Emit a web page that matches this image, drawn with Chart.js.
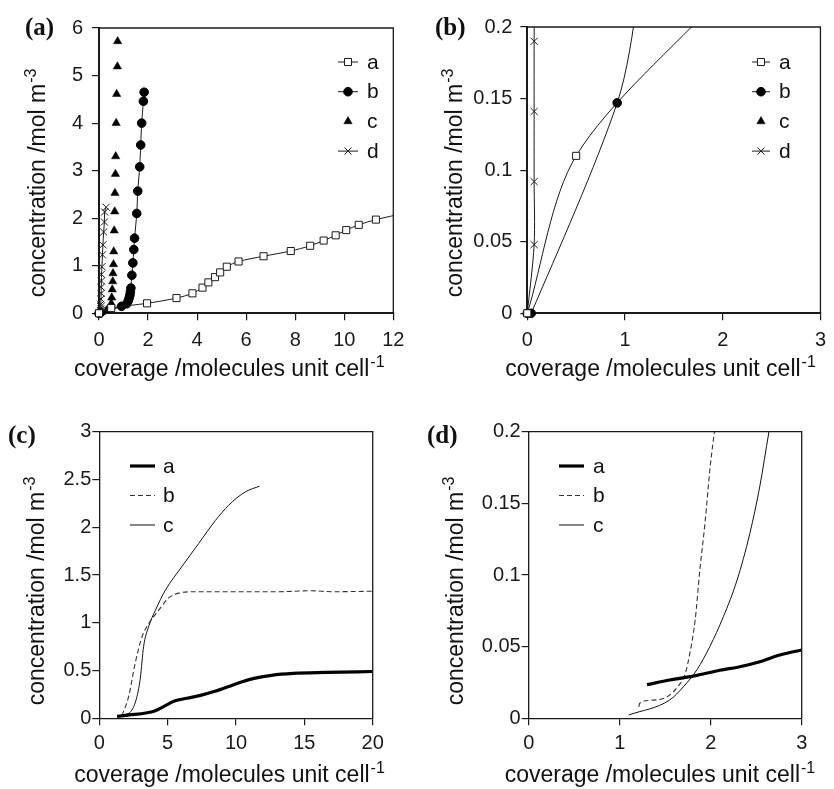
<!DOCTYPE html>
<html><head><meta charset="utf-8">
<script src="https://cdn.jsdelivr.net/npm/chart.js@4"></script>
<style>
html,body{margin:0;padding:0;background:#fff;}
#wrap{position:relative;width:834px;height:789px;overflow:hidden;background:#fff;}
canvas{position:absolute;}
</style></head><body>
<div id="wrap">
<canvas id="ca" width="417" height="390" style="left:0;top:0"></canvas>
<canvas id="cb" width="417" height="390" style="left:417px;top:0"></canvas>
<canvas id="cc" width="417" height="399" style="left:0;top:390px"></canvas>
<canvas id="cd" width="417" height="399" style="left:417px;top:390px"></canvas>
</div>
<script>
// ---------- shared text ----------
const yTitle = ['concentration /mol m', '-3'];
const xTitle = ['coverage /molecules unit cell', '-1'];
const seriesNamesAB = ['a', 'b', 'c', 'd'];
const seriesNamesCD = ['a', 'b', 'c'];

// ---------- panel (a) ----------
const aXTicks = [0, 2, 4, 6, 8, 10, 12];
const aXLabels = ['0', '2', '4', '6', '8', '10', '12'];
const aYTicks = [0, 1, 2, 3, 4, 5, 6];
const aYLabels = ['0', '1', '2', '3', '4', '5', '6'];
const aSerA = [[0,0],[0.5,0.11],[1.96,0.21],[3.16,0.32],[3.81,0.42],[4.22,0.54],[4.46,0.65],[4.73,0.76],[4.94,0.86],[5.21,0.98],[5.69,1.09],[6.71,1.20],[7.82,1.31],[8.61,1.42],[9.16,1.53],[9.65,1.64],[10.08,1.75],[10.59,1.86],[11.29,1.97],[12.5,2.11]];
const aSerB = [[0,0],[0.04,0],[0.92,0.147],[1.13,0.20],[1.19,0.26],[1.23,0.32],[1.26,0.38],[1.28,0.45],[1.30,0.53],[1.34,0.80],[1.38,1.06],[1.42,1.34],[1.45,1.58],[1.54,2.10],[1.58,2.57],[1.66,3.08],[1.70,3.54],[1.74,4.0],[1.81,4.46],[1.84,4.65]];
const aSerC = [[0,0],[0.1,0.02],[0.3,0.06],[0.45,0.12],[0.50,0.21],[0.52,0.33],[0.54,0.50],[0.56,0.67],[0.57,0.84],[0.59,1.03],[0.60,1.30],[0.62,1.74],[0.64,2.14],[0.65,2.53],[0.67,2.93],[0.68,3.30],[0.70,4.0],[0.72,4.61],[0.75,5.19],[0.76,5.72]];
const aSerD = [[0,0],[0.07,0.048],[0.07,0.092],[0.07,0.141],[0.07,0.19],[0.08,0.30],[0.09,0.42],[0.09,0.55],[0.10,0.68],[0.10,0.82],[0.12,0.98],[0.14,1.23],[0.16,1.44],[0.19,1.71],[0.22,1.92],[0.23,2.13],[0.29,2.23]];

// ---------- panel (b) ----------
const bXTicks = [0, 1, 2, 3];
const bXLabels = ['0', '1', '2', '3'];
const bYTicks = [0, 0.05, 0.1, 0.15, 0.2];
const bYLabels = ['0', '0.05', '0.1', '0.15', '0.2'];
const bSerA = [[0,0],[0.5,0.11],[1.96,0.22]];
const bSerB = [[0,0],[0.04,0],[0.92,0.147],[1.13,0.22],[1.19,0.27]];
const bSerC = [[0,0]];
const bSerD = [[0,0],[0.07,0.048],[0.07,0.092],[0.07,0.141],[0.07,0.19],[0.08,0.30]];

// ---------- panel (c) ----------
const cXTicks = [0, 5, 10, 15, 20];
const cXLabels = ['0', '5', '10', '15', '20'];
const cYTicks = [0, 0.5, 1, 1.5, 2, 2.5, 3];
const cYLabels = ['0', '0.5', '1', '1.5', '2', '2.5', '3'];
const cSerA = [[1.3,0.02],[2.2,0.035],[3.4,0.055],[4.1,0.08],[4.8,0.13],[5.5,0.18],[6.4,0.21],[7.4,0.24],[8.4,0.28],[9.4,0.33],[10.4,0.38],[11.4,0.42],[12.6,0.45],[14.2,0.47],[16.6,0.48],[20,0.49]];
const cSerB = [[1.66,0.03],[2.15,0.23],[2.63,0.58],[3.12,0.85],[3.61,0.99],[4.34,1.13],[5.07,1.26],[5.8,1.31],[7.0,1.325],[10,1.325],[13,1.325],[15.5,1.335],[17,1.325],[20,1.33]];
const cSerC = [[1.78,0.03],[2.39,0.087],[2.76,0.23],[3.0,0.42],[3.24,0.75],[3.61,0.96],[4.1,1.13],[4.83,1.34],[6.05,1.59],[7.27,1.83],[8.49,2.07],[9.46,2.23],[10.68,2.37],[11.73,2.43]];

// ---------- panel (d) ----------
const dXTicks = [0, 1, 2, 3];
const dXLabels = ['0', '1', '2', '3'];
const dYTicks = [0, 0.05, 0.1, 0.15, 0.2];
const dYLabels = ['0', '0.05', '0.1', '0.15', '0.2'];
const dSerA = [[1.30,0.0235],[1.55,0.0267],[1.85,0.030],[2.10,0.0335],[2.32,0.036],[2.54,0.0395],[2.76,0.0442],[3.0,0.0477]];
const dSerB = [[1.21,0.008],[1.22,0.0105],[1.33,0.0125],[1.52,0.015],[1.65,0.023],[1.72,0.031],[1.77,0.045],[1.83,0.069],[1.88,0.103],[1.94,0.138],[1.99,0.173],[2.05,0.205]];
const dSerC = [[1.10,0.0023],[1.55,0.0128],[1.70,0.022],[1.85,0.034],[1.99,0.050],[2.14,0.071],[2.29,0.0965],[2.43,0.129],[2.54,0.162],[2.64,0.2],[2.70,0.222]];

// ---------- styling ----------
const INK = '#1a1a1a';
const SANS = '"Liberation Sans", Arial, Helvetica, sans-serif';
const SERIF = '"Liberation Serif", "Times New Roman", serif';
Chart.defaults.font.family = SANS;
Chart.defaults.color = INK;

const pts = arr => arr.map(([x, y]) => ({x, y}));

function drawSup(ctx, main, sup, x, y, size) {
  ctx.font = size + 'px ' + SANS;
  ctx.textAlign = 'left';
  ctx.textBaseline = 'alphabetic';
  ctx.fillText(main, x, y);
  const w = ctx.measureText(main).width;
  ctx.font = Math.round(size * 0.68) + 'px ' + SANS;
  ctx.fillText(sup, x + w + 1, y - size * 0.4);
}

function drawMarker(ctx, style, x, y, r, fill, stroke, bw) {
  ctx.save();
  ctx.beginPath();
  ctx.fillStyle = fill; ctx.strokeStyle = stroke; ctx.lineWidth = bw;
  if (style === 'rect') {
    const s = Math.SQRT1_2 * r; ctx.rect(x - s, y - s, 2 * s, 2 * s); ctx.fill(); ctx.stroke();
  } else if (style === 'circle') {
    ctx.arc(x, y, r, 0, 2 * Math.PI); ctx.fill(); ctx.stroke();
  } else if (style === 'triangle') {
    const t = 2 * Math.PI / 3;
    ctx.moveTo(x, y - r);
    ctx.lineTo(x + r * Math.sin(t), y - r * Math.cos(t));
    ctx.lineTo(x + r * Math.sin(2 * t), y - r * Math.cos(2 * t));
    ctx.closePath(); ctx.fill(); if (bw > 0) ctx.stroke();
  } else if (style === 'crossRot') {
    const s = Math.SQRT1_2 * r;
    ctx.moveTo(x - s, y - s); ctx.lineTo(x + s, y + s);
    ctx.moveTo(x - s, y + s); ctx.lineTo(x + s, y - s); ctx.stroke();
  }
  ctx.restore();
}

const decor = {
  id: 'decor',
  afterDraw(chart, args, o) {
    const ctx = chart.ctx, ca = chart.chartArea;
    ctx.save();
    // frame (top and right)
    ctx.strokeStyle = INK; ctx.lineWidth = o.frameWidth;
    ctx.beginPath();
    ctx.moveTo(ca.left, ca.top); ctx.lineTo(ca.right, ca.top); ctx.lineTo(ca.right, ca.bottom);
    ctx.stroke();
    ctx.fillStyle = '#111';
    // panel label
    ctx.font = 'bold ' + o.labelSize + 'px ' + SERIF;
    ctx.textAlign = 'left'; ctx.textBaseline = 'alphabetic';
    ctx.fillText(o.label, o.labelX, o.labelY);
    // axis titles
    drawSup(ctx, xTitle[0], xTitle[1], ca.left + o.xtDx, ca.bottom + o.xtDy, o.titleSize);
    ctx.save();
    ctx.translate(ca.left + o.ytDx, ca.bottom + o.ytDy);
    ctx.rotate(-Math.PI / 2);
    drawSup(ctx, yTitle[0], yTitle[1], 0, 0, o.titleSize);
    ctx.restore();
    // legend
    const L = o.legend;
    chart.data.datasets.forEach((ds, i) => {
      const y = L.y0 + i * L.dy;
      if (ds.showLine !== false && ds.borderWidth > 0) {
        ctx.save();
        ctx.strokeStyle = ds.borderColor; ctx.lineWidth = ds.borderWidth;
        ctx.setLineDash(ds.borderDash || []);
        ctx.beginPath(); ctx.moveTo(L.x0, y); ctx.lineTo(L.x1, y); ctx.stroke();
        ctx.restore();
      }
      if (ds.pointRadius > 0) {
        drawMarker(ctx, ds.pointStyle, L.xm, y, ds.pointRadius, ds.pointBackgroundColor, ds.pointBorderColor, ds.pointBorderWidth);
      }
      ctx.fillStyle = '#111';
      ctx.font = L.size + 'px ' + SANS;
      ctx.textAlign = 'left'; ctx.textBaseline = 'middle';
      ctx.fillText(ds.label, L.xt, y + 1);
    });
    ctx.restore();
  }
};

function axis(kind, ticks, labels, min, max, fit, axisW, pad) {
  return {
    type: 'linear', min, max,
    afterBuildTicks: s => { s.ticks = ticks.map(v => ({value: v})); },
    afterFit: s => { if (kind === 'x') s.height = fit; else s.width = fit; },
    grid: { drawOnChartArea: false, drawTicks: true, tickLength: 7, color: INK, lineWidth: 1.2 },
    border: { display: true, color: INK, width: axisW },
    ticks: {
      color: INK, font: { family: SANS, size: 20 }, padding: pad,
      maxRotation: 0, minRotation: 0, autoSkip: false,
      callback: (v, i) => labels[i]
    }
  };
}

function make(id, datasets, sc, area, decorOpts) {
  const cv = document.getElementById(id);
  return new Chart(cv, {
    type: 'line',
    data: { datasets },
    options: {
      responsive: false, animation: false, devicePixelRatio: 1, events: [],
      layout: { padding: { top: area.top, right: cv.width - area.right, left: 0, bottom: 0 } },
      scales: {
        x: axis('x', sc.xt, sc.xl, sc.xmin, sc.xmax, cv.height - area.bottom, sc.aw, sc.xpad),
        y: axis('y', sc.yt, sc.yl, sc.ymin, sc.ymax, area.left, sc.aw, sc.ypad)
      },
      plugins: { legend: { display: false }, tooltip: { enabled: false }, decor: decorOpts }
    },
    plugins: [decor]
  });
}

const clipAB = { left: 6, bottom: 6, top: 0, right: 0 };

function abSets(A, B, C, D) {
  return [
    { label: seriesNamesAB[0], data: pts(A), showLine: true, borderColor: INK, borderWidth: 1, tension: 0.3,
      pointStyle: 'rect', pointRadius: 5, pointBackgroundColor: '#fff', pointBorderColor: INK, pointBorderWidth: 1, clip: clipAB },
    { label: seriesNamesAB[1], data: pts(B), showLine: true, borderColor: INK, borderWidth: 1, tension: 0.3,
      pointStyle: 'circle', pointRadius: 4.3, pointBackgroundColor: '#000', pointBorderColor: '#000', pointBorderWidth: 1, clip: clipAB },
    { label: seriesNamesAB[2], data: pts(C), showLine: false, borderColor: INK, borderWidth: 0,
      pointStyle: 'triangle', pointRadius: 4.8, pointBackgroundColor: '#000', pointBorderColor: '#000', pointBorderWidth: 0.5, clip: clipAB },
    { label: seriesNamesAB[3], data: pts(D), showLine: true, borderColor: INK, borderWidth: 1, tension: 0.3,
      pointStyle: 'crossRot', pointRadius: 5, pointBackgroundColor: '#000', pointBorderColor: INK, pointBorderWidth: 1, clip: clipAB }
  ];
}
function cdSets(A, B, C) {
  return [
    { label: seriesNamesCD[0], data: pts(A), borderColor: '#000', borderWidth: 3.2, pointRadius: 0, cubicInterpolationMode: 'monotone', clip: 0 },
    { label: seriesNamesCD[1], data: pts(B), borderColor: '#333', borderWidth: 1.1, borderDash: [5, 3], pointRadius: 0, cubicInterpolationMode: 'monotone', clip: 0 },
    { label: seriesNamesCD[2], data: pts(C), borderColor: '#111', borderWidth: 1, pointRadius: 0, cubicInterpolationMode: 'monotone', clip: 0 }
  ];
}

make('ca', abSets(aSerA, aSerB, aSerC, aSerD),
  { xt: aXTicks, xl: aXLabels, xmin: 0, xmax: 12, yt: aYTicks, yl: aYLabels, ymin: 0, ymax: 6, aw: 2, xpad: 8, ypad: 9 },
  { left: 99, right: 393.3, top: 28, bottom: 313.3 },
  { label: '(a)', labelX: 25, labelY: 35, labelSize: 25, frameWidth: 1.3, titleSize: 23,
    xtDx: -25, xtDy: 63, ytDx: -54, ytDy: -16,
    legend: { x0: 338, x1: 358, xm: 348, xt: 367, y0: 62, dy: 29.7, size: 21 } });

make('cb', abSets(bSerA, bSerB, bSerC, bSerD),
  { xt: bXTicks, xl: bXLabels, xmin: 0, xmax: 3, yt: bYTicks, yl: bYLabels, ymin: 0, ymax: 0.2, aw: 2, xpad: 8, ypad: 8 },
  { left: 110.3, right: 405.3, top: 27, bottom: 313.3 },
  { label: '(b)', labelX: 18, labelY: 35, labelSize: 25, frameWidth: 1.3, titleSize: 23,
    xtDx: -22, xtDy: 63, ytDx: -65, ytDy: -16,
    legend: { x0: 335, x1: 353, xm: 344, xt: 362, y0: 62, dy: 29.7, size: 21 } });

make('cc', cdSets(cSerA, cSerB, cSerC),
  { xt: cXTicks, xl: cXLabels, xmin: 0, xmax: 20, yt: cYTicks, yl: cYLabels, ymin: 0, ymax: 3, aw: 1.3, xpad: 6, ypad: 1 },
  { left: 99.3, right: 372.7, top: 41.7, bottom: 328.3 },
  { label: '(c)', labelX: 8, labelY: 53, labelSize: 25, frameWidth: 1.3, titleSize: 23,
    xtDx: -25, xtDy: 64, ytDx: -55, ytDy: -13,
    legend: { x0: 130, x1: 155, xm: 142, xt: 163, y0: 76, dy: 29.5, size: 21 } });

make('cd', cdSets(dSerA, dSerB, dSerC),
  { xt: dXTicks, xl: dXLabels, xmin: 0, xmax: 3, yt: dYTicks, yl: dYLabels, ymin: 0, ymax: 0.2, aw: 1.3, xpad: 6, ypad: 1 },
  { left: 111.7, right: 384.7, top: 41.7, bottom: 328.3 },
  { label: '(d)', labelX: 10, labelY: 53, labelSize: 25, frameWidth: 1.3, titleSize: 23,
    xtDx: -24, xtDy: 64, ytDx: -66, ytDy: -13,
    legend: { x0: 142, x1: 167, xm: 154, xt: 176, y0: 76, dy: 29.5, size: 21 } });
</script>
</body></html>
